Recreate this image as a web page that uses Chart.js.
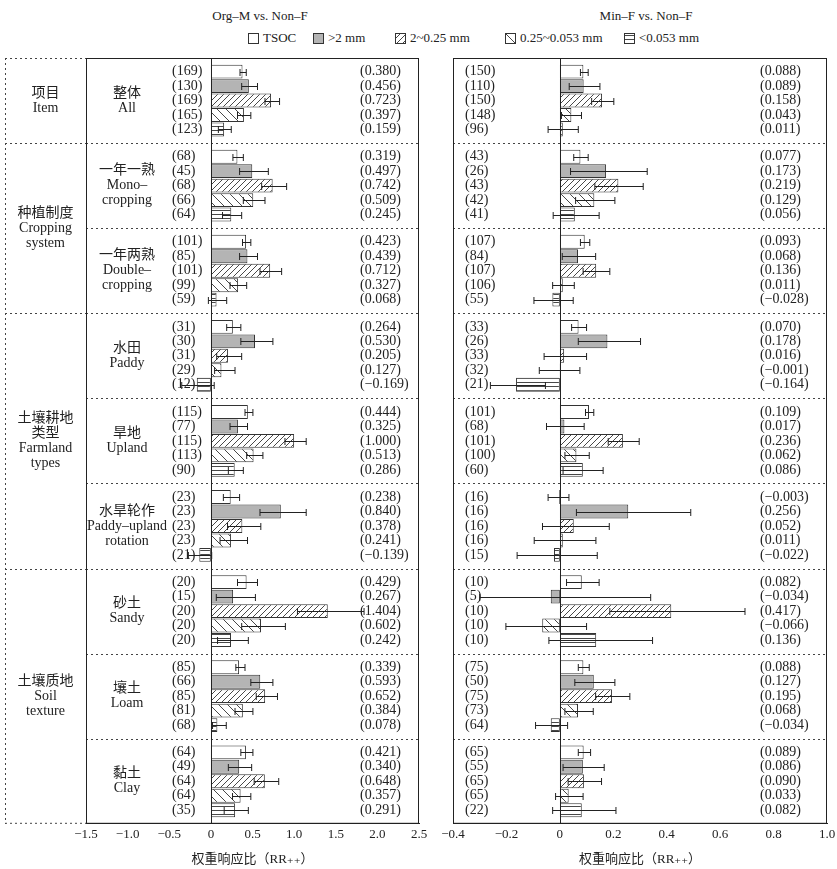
<!DOCTYPE html>
<html>
<head>
<meta charset="utf-8">
<script src="https://cdn.jsdelivr.net/npm/chart.js@4.4.0/dist/chart.umd.min.js"></script>
<style>
  body { margin: 0; background: #fff; }
  #wrap { position: relative; width: 837px; height: 869px; font-family: "Liberation Serif", "Noto Sans CJK SC", serif; color: #222; }
  #wrap > canvas { position: absolute; top: 0; }
  .title { position: absolute; top: 8px; font-size: 13px; transform: translateX(-50%); white-space: nowrap; }
  .item { position: absolute; top: 30px; font-size: 13px; display: flex; align-items: center; white-space: nowrap; }
  .item canvas { margin-right: 4px; }
</style>
</head>
<body>
<div id="wrap">
  <div class="title" style="left:260px">Org–M vs. Non–F</div>
  <div class="title" style="left:646px">Min–F vs. Non–F</div>
  <div id="legend"></div>
  <canvas id="orgChart" width="430" height="869" style="left:0"></canvas>
  <canvas id="minChart" width="407" height="869" style="left:430px"></canvas>
</div>
<script>
// Categories (top to bottom)
const groups = ["整体", "一年一熟", "一年两熟", "水田", "旱地", "水旱轮作", "砂土", "壤土", "黏土"];
const groupLines = [
  ["整体", "All"],
  ["一年一熟", "Mono–", "cropping"],
  ["一年两熟", "Double–", "cropping"],
  ["水田", "Paddy"],
  ["旱地", "Upland"],
  ["水旱轮作", "Paddy–upland", "rotation"],
  ["砂土", "Sandy"],
  ["壤土", "Loam"],
  ["黏土", "Clay"]
];
// Outer sections: label lines and the group index range they cover
const sectionLines = [["项目", "Item"], ["种植制度", "Cropping", "system"], ["土壤耕地", "类型", "Farmland", "types"], ["土壤质地", "Soil", "texture"]];
const sectionFirst = [0, 1, 3, 6];
const sectionLast = [0, 2, 5, 8];

const series = ["TSOC", ">2 mm", "2~0.25 mm", "0.25~0.053 mm", "<0.053 mm"];

// Org-M vs. Non-F : one row per series, one value per group
const orgValues = [
  [0.380, 0.319, 0.423, 0.264, 0.444, 0.238, 0.429, 0.339, 0.421],
  [0.456, 0.497, 0.439, 0.530, 0.325, 0.840, 0.267, 0.593, 0.340],
  [0.723, 0.742, 0.712, 0.205, 1.000, 0.378, 1.404, 0.652, 0.648],
  [0.397, 0.509, 0.327, 0.127, 0.513, 0.241, 0.602, 0.384, 0.357],
  [0.159, 0.245, 0.068, -0.169, 0.286, -0.139, 0.242, 0.078, 0.291]
];
const orgLower = [
  [0.35, 0.265, 0.38, 0.19, 0.41, 0.15, 0.32, 0.30, 0.36],
  [0.37, 0.345, 0.345, 0.36, 0.23, 0.59, 0.065, 0.48, 0.21],
  [0.65, 0.61, 0.59, 0.07, 0.89, 0.20, 1.04, 0.545, 0.52],
  [0.32, 0.39, 0.23, 0.045, 0.43, 0.11, 0.37, 0.29, 0.26],
  [0.09, 0.14, -0.03, -0.35, 0.21, -0.27, 0.08, 0.02, 0.16]
];
const orgUpper = [
  [0.425, 0.39, 0.48, 0.36, 0.505, 0.345, 0.56, 0.41, 0.505],
  [0.56, 0.69, 0.56, 0.745, 0.44, 1.145, 0.535, 0.745, 0.49],
  [0.825, 0.91, 0.85, 0.37, 1.145, 0.60, 1.84, 0.80, 0.815],
  [0.48, 0.65, 0.43, 0.29, 0.625, 0.44, 0.895, 0.505, 0.48],
  [0.245, 0.37, 0.19, 0.04, 0.39, 0.01, 0.45, 0.185, 0.45]
];
const orgCounts = [
  [169, 68, 101, 31, 115, 23, 20, 85, 64],
  [130, 45, 85, 30, 77, 23, 15, 66, 49],
  [169, 68, 101, 31, 115, 23, 20, 85, 64],
  [165, 66, 99, 29, 113, 23, 20, 81, 64],
  [123, 64, 59, 12, 90, 21, 20, 68, 35]
];

// Min-F vs. Non-F
const minValues = [
  [0.088, 0.077, 0.093, 0.070, 0.109, -0.003, 0.082, 0.088, 0.089],
  [0.089, 0.173, 0.068, 0.178, 0.017, 0.256, -0.034, 0.127, 0.086],
  [0.158, 0.219, 0.136, 0.016, 0.236, 0.052, 0.417, 0.195, 0.090],
  [0.043, 0.129, 0.011, -0.001, 0.062, 0.011, -0.066, 0.068, 0.033],
  [0.011, 0.056, -0.028, -0.164, 0.086, -0.022, 0.136, -0.034, 0.082]
];
const minLower = [
  [0.077, 0.052, 0.077, 0.044, 0.096, -0.044, 0.025, 0.069, 0.069],
  [0.035, 0.04, 0.009, 0.069, -0.05, 0.062, -0.30, 0.056, 0.012],
  [0.119, 0.131, 0.087, -0.059, 0.181, -0.065, 0.187, 0.134, 0.031],
  [0.006, 0.059, -0.027, -0.077, 0.019, -0.096, -0.202, 0.019, -0.016],
  [-0.044, -0.025, -0.097, -0.26, 0.012, -0.16, -0.041, -0.091, -0.027]
];
const minUpper = [
  [0.106, 0.106, 0.112, 0.10, 0.127, 0.034, 0.147, 0.11, 0.115],
  [0.15, 0.327, 0.134, 0.302, 0.091, 0.49, 0.34, 0.206, 0.166],
  [0.202, 0.312, 0.187, 0.10, 0.297, 0.185, 0.693, 0.262, 0.156],
  [0.081, 0.206, 0.054, 0.075, 0.11, 0.135, 0.10, 0.125, 0.087],
  [0.069, 0.147, 0.05, -0.054, 0.162, 0.14, 0.347, 0.029, 0.21]
];
const minCounts = [
  [150, 43, 107, 33, 101, 16, 10, 75, 65],
  [110, 26, 84, 26, 68, 16, 5, 50, 55],
  [150, 43, 107, 33, 101, 16, 10, 75, 65],
  [148, 42, 106, 32, 100, 16, 10, 73, 65],
  [96, 41, 55, 21, 60, 15, 10, 64, 22]
];

const orgTicks = { min: -1.5, max: 2.5, step: 0.5 };
const minTicks = { min: -0.4, max: 1.0, step: 0.2 };

const ink = "#222";
const serif = '"Liberation Serif", "DejaVu Serif", "Noto Sans CJK SC", serif';

// fill patterns for the five fractions
function makeFill(kind) {
  if (kind === "white") return "#ffffff";
  if (kind === "gray") return "#b4b4b4";
  const c = document.createElement("canvas");
  const s = kind === "slash" ? 6 : kind === "back" ? 9 : 4;
  c.width = s; c.height = s;
  const g = c.getContext("2d");
  g.fillStyle = "#fff"; g.fillRect(0, 0, s, s);
  g.strokeStyle = "#333"; g.lineWidth = 0.9;
  g.beginPath();
  if (kind === "slash") {
    g.moveTo(-1, s + 1); g.lineTo(s + 1, -1);
    g.moveTo(-1, 1); g.lineTo(1, -1);
    g.moveTo(s - 1, s + 1); g.lineTo(s + 1, s - 1);
  } else if (kind === "back") {
    g.moveTo(-1, -1); g.lineTo(s + 1, s + 1);
    g.moveTo(s - 1, -1); g.lineTo(s + 1, 1);
    g.moveTo(-1, s - 1); g.lineTo(1, s + 1);
  } else {
    g.moveTo(0, 2.5); g.lineTo(s, 2.5);
  }
  g.stroke();
  return g.createPattern(c, "repeat");
}
const fillKinds = ["white", "gray", "slash", "back", "horiz"];
const fills = fillKinds.map(makeFill);

// legend (html)
const legendLeft = [248, 313, 395, 505, 624];
const legend = document.getElementById("legend");
series.forEach((name, s) => {
  const item = document.createElement("div");
  item.className = "item";
  item.style.left = legendLeft[s] + "px";
  const sw = document.createElement("canvas");
  sw.width = 11; sw.height = 11;
  const g = sw.getContext("2d");
  g.fillStyle = fills[s]; g.fillRect(0, 0, 11, 11);
  g.strokeStyle = "#333"; g.lineWidth = 1; g.strokeRect(0.5, 0.5, 10, 10);
  item.appendChild(sw);
  const t = document.createElement("span");
  t.textContent = name;
  item.appendChild(t);
  legend.appendChild(item);
});

function fmt(v) {
  const s = Math.abs(v).toFixed(3);
  return v < 0 ? "−" + s : s;
}

function line(ctx, x1, y1, x2, y2) {
  ctx.beginPath(); ctx.moveTo(x1, y1); ctx.lineTo(x2, y2); ctx.stroke();
}

function panelPlugin(o) {
  return {
    id: "panel",
    beforeDatasetsDraw(chart) {
      const { ctx, chartArea: a, scales: { y } } = chart;
      ctx.save();
      ctx.strokeStyle = "#444"; ctx.lineWidth = 1; ctx.setLineDash([2, 3]);
      for (let i = 0; i < groups.length - 1; i++) {
        const yy = Math.round((y.getPixelForValue(i) + y.getPixelForValue(i + 1)) / 2) + 0.5;
        line(ctx, a.left, yy, a.right, yy);
        if (o.outer && sectionLast.includes(i)) line(ctx, 5, yy, a.left, yy);
      }
      if (o.outer) {
        line(ctx, 5, a.top + 0.5, a.left, a.top + 0.5);
        line(ctx, 5, a.bottom - 0.5, a.left, a.bottom - 0.5);
        line(ctx, 5.5, a.top, 5.5, a.bottom);
      }
      ctx.restore();
    },
    afterDatasetsDraw(chart) {
      const { ctx, chartArea: a, scales: { x, y } } = chart;
      ctx.save();
      // zero line
      const x0 = Math.round(x.getPixelForValue(0)) + 0.5;
      ctx.strokeStyle = ink; ctx.lineWidth = 1;
      line(ctx, x0, a.top, x0, a.bottom);
      // error bars + labels
      ctx.font = "14px " + serif;
      ctx.fillStyle = ink;
      ctx.textBaseline = "middle";
      ctx.textAlign = "left";
      series.forEach((_, s) => {
        const meta = chart.getDatasetMeta(s);
        meta.data.forEach((el, i) => {
          const lo = x.getPixelForValue(o.lower[s][i]);
          const hi = x.getPixelForValue(o.upper[s][i]);
          const yy = Math.round(el.y) + 0.5;
          ctx.beginPath();
          ctx.moveTo(lo, yy); ctx.lineTo(hi, yy);
          ctx.moveTo(lo, yy - 3.5); ctx.lineTo(lo, yy + 3.5);
          ctx.moveTo(hi, yy - 3.5); ctx.lineTo(hi, yy + 3.5);
          ctx.stroke();
          ctx.fillText("(" + o.counts[s][i] + ")", a.left + o.countX, el.y);
          ctx.fillText("(" + fmt(o.values[s][i]) + ")", a.left + o.valueX, el.y);
        });
      });
      // group names inside the left panel, section names in the outer column
      ctx.textAlign = "center";
      if (o.outer) {
        groupLines.forEach((lines, i) => {
          const cy = y.getPixelForValue(i);
          lines.forEach((t, k) => ctx.fillText(t, a.left + 41, cy + (k - (lines.length - 1) / 2) * 15));
        });
        sectionLines.forEach((lines, j) => {
          const top = (y.getPixelForValue(sectionFirst[j]) + y.getPixelForValue(sectionFirst[j] - 1)) / 2;
          const bot = (y.getPixelForValue(sectionLast[j]) + y.getPixelForValue(sectionLast[j] + 1)) / 2;
          const cy = (top + bot) / 2;
          lines.forEach((t, k) => ctx.fillText(t, (5 + a.left) / 2, cy + (k - (lines.length - 1) / 2) * 15));
        });
      }
      // frame
      ctx.strokeRect(a.left + 0.5, a.top + 0.5, a.width - 1, a.height - 1);
      ctx.restore();
    }
  };
}

function makePanel(id, values, t, pad, plug) {
  return new Chart(document.getElementById(id), {
    type: "bar",
    data: {
      labels: groups,
      datasets: series.map((name, s) => ({
        label: name,
        data: values[s],
        backgroundColor: fills[s],
        borderColor: "#333",
        borderWidth: 1,
        borderSkipped: false,
        categoryPercentage: 0.85,
        barPercentage: 0.96
      }))
    },
    options: {
      indexAxis: "y",
      responsive: false,
      animation: false,
      layout: { padding: pad },
      plugins: { legend: { display: false }, tooltip: { enabled: false } },
      scales: {
        x: {
          min: t.min, max: t.max,
          afterFit: s => { s.paddingLeft = 0; s.paddingRight = 0; },
          ticks: {
            stepSize: t.step,
            color: ink,
            font: { family: serif, size: 13 },
            padding: 3,
            callback: v => Math.abs(v) < 1e-9 ? "0" : (v < 0 ? "−" : "") + Math.abs(v).toFixed(1)
          },
          grid: { display: false, drawTicks: false },
          border: { display: true, color: ink },
          title: {
            display: true,
            text: "权重响应比（RR₊₊）",
            color: ink,
            font: { family: serif, size: 13 },
            padding: { top: 6, bottom: 2 }
          }
        },
        y: { display: false }
      }
    },
    plugins: [plug]
  });
}

makePanel("orgChart", orgValues, orgTicks, { left: 86, right: 11, top: 58, bottom: 0 },
  panelPlugin({ outer: true, values: orgValues, lower: orgLower, upper: orgUpper, counts: orgCounts, countX: 86, valueX: 274 }));
makePanel("minChart", minValues, minTicks, { left: 23, right: 10, top: 58, bottom: 0 },
  panelPlugin({ outer: false, values: minValues, lower: minLower, upper: minUpper, counts: minCounts, countX: 12, valueX: 307 }));
</script>
</body>
</html>
